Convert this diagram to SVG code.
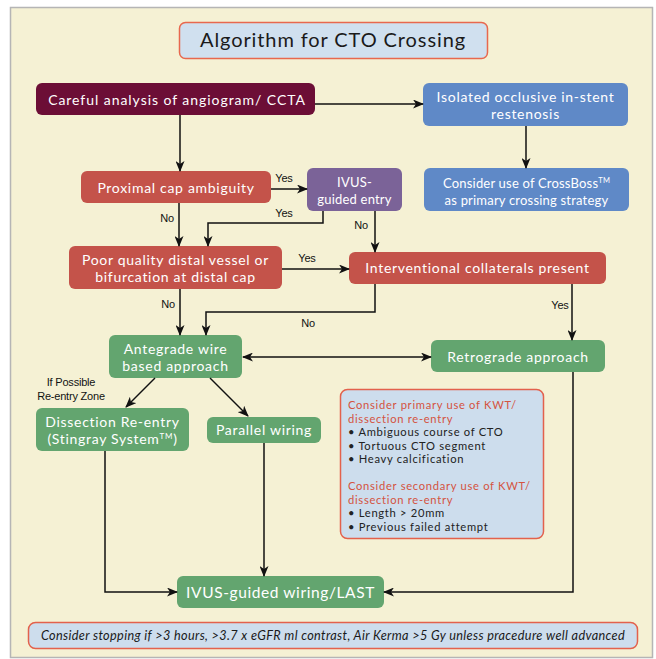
<svg xmlns="http://www.w3.org/2000/svg" width="656" height="659" viewBox="0 0 656 659">
<defs>
<marker id="ah" markerWidth="11" markerHeight="9" refX="10" refY="4.5" orient="auto-start-reverse" markerUnits="userSpaceOnUse">
<path d="M0,0 L11,4.5 L0,9 L3,4.5 z" fill="#111"/>
</marker>
<style>
.t{font-family:Lato,"Liberation Sans",sans-serif;fill:#fff;text-anchor:middle;font-size:14px;letter-spacing:0.7px}
.s{font-size:13px;letter-spacing:0.2px}
.lb{font-family:"Liberation Sans",Arial,sans-serif;font-size:11px;fill:#111;text-anchor:middle;letter-spacing:-0.2px}
.ca{fill:none;stroke:#111;stroke-width:1.5;marker-end:url(#ah)}
.mar{fill:#6c0e36}
.blu{fill:#5f89c7}
.red{fill:#c4534a}
.pur{fill:#7b6398}
.grn{fill:#63a56f}
.info{font-family:Lato,"Liberation Sans",sans-serif;font-size:11.2px;letter-spacing:0.7px;fill:#222}
.infr{fill:#d4533f}
</style>
</defs>
<rect x="0" y="0" width="656" height="659" fill="#ffffff"/>
<rect x="10.5" y="7.5" width="642" height="650" fill="#f5f1d4" stroke="#b5b5b5" stroke-width="1.5"/>

<g id="title">
<rect x="179.5" y="22.5" width="308" height="36" rx="6" fill="#d0e0ef" stroke="#e8684e" stroke-width="1.5"/>
<text x="333" y="47" style="font-family:Lato,'Liberation Sans',sans-serif;font-size:20px;letter-spacing:0.9px;fill:#1a1a1a;text-anchor:middle">Algorithm for CTO Crossing</text>
</g>

<g id="careful">
<rect class="mar" x="36" y="83" width="279" height="32" rx="6"/>
<text class="t" x="177" y="104.5" style="letter-spacing:0.95px">Careful analysis of angiogram/ CCTA</text>
</g>

<g id="isolated">
<rect class="blu" x="423" y="83" width="205" height="43" rx="6"/>
<text class="t" x="525.5" y="102">Isolated occlusive in-stent</text>
<text class="t" x="525.5" y="119">restenosis</text>
</g>

<g id="crossboss">
<rect class="blu" x="424" y="168" width="205" height="43" rx="6"/>
<text class="t s" x="526.5" y="188">Consider use of CrossBoss<tspan font-size="7.5" dy="-5">TM</tspan></text>
<text class="t s" x="526.5" y="205">as primary crossing strategy</text>
</g>

<g id="proximal">
<rect class="red" x="81" y="171" width="190" height="32" rx="6"/>
<text class="t" x="176" y="192.5">Proximal cap ambiguity</text>
</g>

<g id="ivus-entry">
<rect class="pur" x="307" y="168" width="95" height="43" rx="6"/>
<text class="t s" x="354.5" y="187">IVUS-</text>
<text class="t s" x="354.5" y="204">guided entry</text>
</g>

<g id="poor">
<rect class="red" x="69" y="246" width="213" height="43" rx="6"/>
<text class="t" x="175.5" y="265">Poor quality distal vessel or</text>
<text class="t" x="175.5" y="282">bifurcation at distal cap</text>
</g>

<g id="interventional">
<rect class="red" x="349" y="252" width="257" height="32" rx="6"/>
<text class="t" x="477.5" y="273">Interventional collaterals present</text>
</g>

<g id="antegrade">
<rect class="grn" x="109" y="335" width="133" height="43" rx="6"/>
<text class="t" x="175.5" y="354">Antegrade wire</text>
<text class="t" x="175.5" y="371">based approach</text>
</g>

<g id="retrograde">
<rect class="grn" x="431" y="340" width="174" height="32" rx="6"/>
<text class="t" x="518" y="361.5">Retrograde approach</text>
</g>

<g id="dissection">
<rect class="grn" x="36" y="408" width="153" height="43" rx="6"/>
<text class="t" x="112.5" y="427">Dissection Re-entry</text>
<text class="t" x="112.5" y="444">(Stingray System<tspan font-size="8" dy="-5">TM</tspan><tspan dy="5">)</tspan></text>
</g>

<g id="parallel">
<rect class="grn" x="207" y="417" width="114" height="26" rx="6"/>
<text class="t" x="264" y="434.5">Parallel wiring</text>
</g>

<g id="info">
<rect x="340.5" y="389.5" width="203" height="149" rx="7" fill="#cddded" stroke="#e3614c" stroke-width="1.5"/>
<text class="info infr" x="348" y="409">Consider primary use of KWT/</text>
<text class="info infr" x="348" y="422.5">dissection re-entry</text>
<text class="info" x="348" y="436">• Ambiguous course of CTO</text>
<text class="info" x="348" y="449.5">• Tortuous CTO segment</text>
<text class="info" x="348" y="463">• Heavy calcification</text>
<text class="info infr" x="348" y="490">Consider secondary use of KWT/</text>
<text class="info infr" x="348" y="503.5">dissection re-entry</text>
<text class="info" x="348" y="517">• Length &gt; 20mm</text>
<text class="info" x="348" y="530.5">• Previous failed attempt</text>
</g>

<g id="ivus-wiring">
<rect class="grn" x="177" y="576" width="207" height="32" rx="6"/>
<text class="t" x="280.5" y="597.5" style="font-size:15.5px;letter-spacing:0.6px">IVUS-guided wiring/LAST</text>
</g>

<g id="footer">
<rect x="28.5" y="622.5" width="609" height="26" rx="7" fill="#cddded" stroke="#e3614c" stroke-width="1.5"/>
<text x="333" y="640" style="font-family:Lato,'Liberation Sans',sans-serif;font-size:12.7px;letter-spacing:0.35px;font-style:italic;fill:#1a1a1a;text-anchor:middle">Consider stopping if &gt;3 hours, &gt;3.7 x eGFR ml contrast, Air Kerma &gt;5 Gy unless pracedure well advanced</text>
</g>

<g id="connectors">
<line class="ca" x1="315" y1="104" x2="423" y2="104"/>
<line class="ca" x1="180" y1="115" x2="180" y2="171"/>
<line class="ca" x1="526" y1="126" x2="526" y2="168"/>
<line class="ca" x1="271" y1="189" x2="307" y2="189"/>
<line class="ca" x1="179" y1="203" x2="179" y2="246"/>
<polyline class="ca" points="323,211 323,223 208,223 208,246"/>
<line class="ca" x1="375" y1="211" x2="375" y2="252"/>
<line class="ca" x1="282" y1="269" x2="349" y2="269"/>
<line class="ca" x1="180" y1="289" x2="180" y2="335"/>
<polyline class="ca" points="375,284 375,312 206,312 206,335"/>
<line class="ca" x1="572" y1="284" x2="572" y2="340"/>
<line class="ca" x1="243" y1="357" x2="431" y2="357" style="marker-start:url(#ah)"/>
<line class="ca" x1="155" y1="378" x2="126" y2="407"/>
<line class="ca" x1="210" y1="378" x2="248" y2="416"/>
<polyline class="ca" points="105,451 105,592 177,592"/>
<line class="ca" x1="264" y1="443" x2="264" y2="576"/>
<polyline class="ca" points="573,372 573,592 384,592"/>
<g id="labels">
<text class="lb" x="284" y="182">Yes</text>
<text class="lb" x="284" y="217">Yes</text>
<text class="lb" x="167" y="222">No</text>
<text class="lb" x="361" y="229">No</text>
<text class="lb" x="307" y="262">Yes</text>
<text class="lb" x="168" y="308">No</text>
<text class="lb" x="308" y="327">No</text>
<text class="lb" x="560" y="309">Yes</text>
<text class="lb" x="71" y="386">If Possible</text>
<text class="lb" x="71" y="400">Re-entry Zone</text>
</g>
</g>
</svg>
